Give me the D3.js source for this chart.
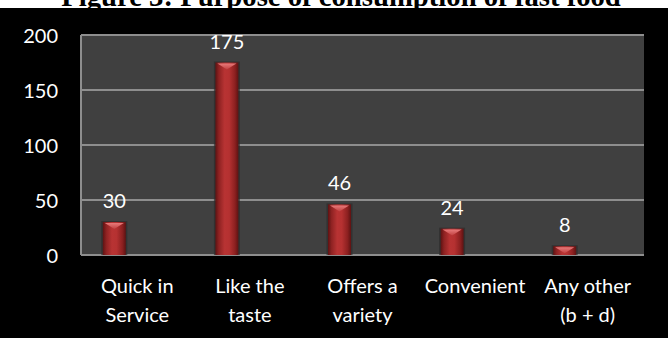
<!DOCTYPE html>
<html><head><meta charset="utf-8">
<script src="https://cdn.jsdelivr.net/npm/d3@7"></script>
<style>html,body{margin:0;padding:0;background:#fff;}svg{display:block;}</style>
</head><body>
<svg id="chart" width="668" height="338"></svg>
<script>
const title = "Figure 3: Purpose of consumption of fast food";
const categories = ["Quick in Service", "Like the taste", "Offers a variety", "Convenient", "Any other (b + d)"];
const categoryLines = [["Quick in", "Service"], ["Like the", "taste"], ["Offers a", "variety"], ["Convenient"], ["Any other", "(b + d)"]];
const values = [30, 175, 46, 24, 8];
const yTicks = [0, 50, 100, 150, 200];

const W = 668, H = 338;
const svg = d3.select("#chart");
const font = "Lato, 'Open Sans', sans-serif";

// Title (clipped at top)
const t = svg.append("text").text(title)
  .attr("x", 341).attr("y", 5.5).attr("text-anchor", "middle")
  .attr("font-family", "'Liberation Serif', 'Times New Roman', serif")
  .attr("font-weight", "bold").attr("font-size", 24).attr("fill", "#000");
const tw = t.node().getComputedTextLength();
t.attr("font-size", 24 * 560 / tw);

// Black background
svg.append("rect").attr("x", 0).attr("y", 8).attr("width", W).attr("height", H - 8).attr("fill", "#000");

const plot = {left: 81, right: 644, top: 35, bottom: 255};
const x = d3.scaleBand().domain(categories).range([plot.left, plot.right]).padding(0);
const y = d3.scaleLinear().domain([0, 200]).range([plot.bottom, plot.top]);

// Plot area
svg.append("rect").attr("x", plot.left).attr("y", plot.top)
  .attr("width", plot.right - plot.left).attr("height", plot.bottom - plot.top)
  .attr("fill", "#404040");

// Gridlines
svg.append("g").selectAll("line").data(yTicks).join("line")
  .attr("x1", plot.left).attr("x2", plot.right)
  .attr("y1", d => y(d)).attr("y2", d => y(d))
  .attr("stroke", "#8e8e8e").attr("stroke-width", 2);
svg.append("line").attr("x1", plot.left).attr("x2", plot.left)
  .attr("y1", plot.top).attr("y2", plot.bottom)
  .attr("stroke", "#8e8e8e").attr("stroke-width", 2);

// Y axis
const yAxis = d3.axisLeft(y).tickValues(yTicks).tickSize(0).tickPadding(0);
const ga = svg.append("g").attr("transform", `translate(${58},0)`).call(yAxis);
ga.select(".domain").remove();
ga.selectAll("text").attr("font-family", font).attr("font-size", 20).attr("fill", "#fff")
  .attr("dy", "0.36em");

// Gradients
const defs = svg.append("defs");
const g1 = defs.append("linearGradient").attr("id", "barGrad").attr("x1", 0).attr("x2", 1).attr("y1", 0).attr("y2", 0);
[[0, "#5e1212"], [0.15, "#8e2222"], [0.4, "#b83333"], [0.6, "#b53131"], [0.85, "#8c2020"], [1, "#5e1212"]]
  .forEach(([o, c]) => g1.append("stop").attr("offset", o).attr("stop-color", c));
const g2 = defs.append("linearGradient").attr("id", "capGrad").attr("x1", 0).attr("x2", 0).attr("y1", 0).attr("y2", 1);
[[0, "#e87a7a"], [1, "#c04040"]].forEach(([o, c]) => g2.append("stop").attr("offset", o).attr("stop-color", c));

const barW = 23, offset = -23;
const cx = d => x(d) + x.bandwidth() / 2 + offset;
const data = categories.map((c, i) => ({c, v: values[i]}));

const bars = svg.append("g");
bars.selectAll("rect.shadow").data(data).join("rect")
  .attr("x", d => cx(d.c) - barW / 2 - 1.5).attr("y", d => y(d.v) - 1)
  .attr("width", barW + 3).attr("height", d => plot.bottom - y(d.v) + 1)
  .attr("fill", "#2c2c2c").attr("opacity", 0.7);
bars.selectAll("rect.bar").data(data).join("rect")
  .attr("x", d => cx(d.c) - barW / 2).attr("y", d => y(d.v))
  .attr("width", barW).attr("height", d => plot.bottom - y(d.v))
  .attr("fill", "url(#barGrad)");
bars.selectAll("path.cap").data(data).join("path")
  .attr("d", d => {
    const l = cx(d.c) - barW / 2 + 2, r = cx(d.c) + barW / 2 - 2, t0 = y(d.v) + 1;
    const h = Math.min(6, (plot.bottom - y(d.v)) - 2);
    return `M${l},${t0}L${r},${t0}L${cx(d.c)},${t0 + h}Z`;
  })
  .attr("fill", "url(#capGrad)");

// Value labels
svg.append("g").selectAll("text").data(data).join("text")
  .attr("x", d => cx(d.c)).attr("y", d => y(d.v) - 14)
  .attr("text-anchor", "middle").attr("font-family", font).attr("font-size", 20)
  .attr("fill", "#fff").text(d => d.v);

// X labels
const xl = svg.append("g").selectAll("text").data(categories).join("text")
  .attr("x", d => x(d) + x.bandwidth() / 2).attr("y", 293)
  .attr("text-anchor", "middle").attr("font-family", font).attr("font-size", 20).attr("fill", "#fff");
xl.each(function(d, i) {
  d3.select(this).selectAll("tspan").data(categoryLines[i]).join("tspan")
    .attr("x", x(d) + x.bandwidth() / 2).attr("dy", (l, j) => j === 0 ? 0 : 29).text(l => l);
});
</script>
</body></html>
